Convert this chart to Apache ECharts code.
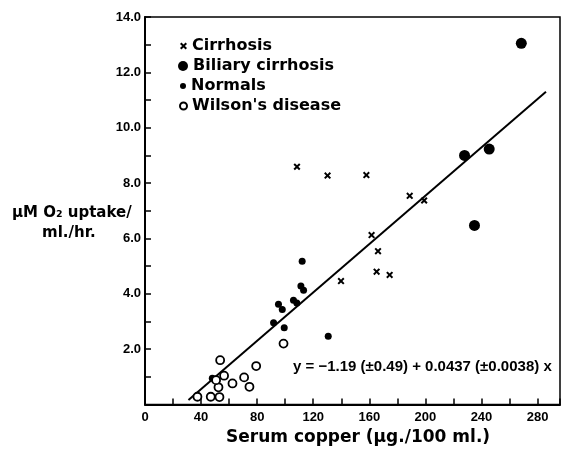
<!DOCTYPE html>
<html>
<head>
<meta charset="utf-8">
<script src="https://cdn.jsdelivr.net/npm/echarts@6/dist/echarts.min.js"></script>
<style>
  html, body { margin: 0; padding: 0; background: #ffffff; }
  #chart { width: 563px; height: 450px; }
</style>
</head>
<body>
<div id="chart"></div>
<script>
  // values
  var cirrhosisX = [108.4, 130.2, 157.9, 188.8, 199.1, 161.6, 166.2, 165.2, 174.5, 139.8];
  var cirrhosisY = [8.59, 8.27, 8.29, 7.54, 7.37, 6.12, 5.54, 4.80, 4.68, 4.46];
  var biliaryX = [268.4, 227.9, 245.5, 235.0];
  var biliaryY = [13.05, 9.00, 9.23, 6.47];
  var normalsX = [112.1, 111.2, 113.1, 95.2, 97.9, 105.9, 108.3, 91.7, 99.3, 130.7, 48.0];
  var normalsY = [5.18, 4.28, 4.13, 3.62, 3.43, 3.77, 3.67, 2.95, 2.77, 2.47, 0.95];
  var wilsonX = [53.6, 79.3, 56.4, 62.4, 70.7, 74.5, 52.4, 37.4, 46.9, 53.1, 98.8, 50.7];
  var wilsonY = [1.60, 1.39, 1.04, 0.76, 0.98, 0.64, 0.62, 0.28, 0.28, 0.27, 2.20, 0.88];
  var fitX = [31, 286];
  var fitY = [0.16, 11.3];
  var xTickLabels = ['0', '40', '80', '120', '160', '200', '240', '280'];
  var yTickLabels = ['2.0', '4.0', '6.0', '8.0', '10.0', '12.0', '14.0'];

  function pairs(xs, ys) {
    var out = [];
    for (var i = 0; i < xs.length; i++) out.push([xs[i], ys[i]]);
    return out;
  }

  var crossPath = 'path://M0,2L2,0L5,3L8,0L10,2L7,5L10,8L8,10L5,7L2,10L0,8L3,5Z';
  var font = 'Liberation Sans';
  var titleFont = 'DejaVu Sans';

  var myChart = echarts.init(document.getElementById('chart'));
  var legendBase = {
    orient: 'vertical',
    itemGap: 0,
    padding: 0,
    textStyle: { color: '#000', fontFamily: titleFont, fontWeight: 'bold', fontSize: 16 },
    selectedMode: false
  };
  var option = {
    animation: false,
    backgroundColor: '#fff',
    grid: {
      left: 145, right: 3, top: 17, bottom: 45.5,
      show: true, borderColor: '#000', borderWidth: 1.5
    },
    legend: [
      Object.assign({}, legendBase, { left: 180, top: 38, itemWidth: 7, itemHeight: 7, data: ['Cirrhosis'] }),
      Object.assign({}, legendBase, { left: 178, top: 58, itemWidth: 10, itemHeight: 10, data: ['Biliary cirrhosis'] }),
      Object.assign({}, legendBase, { left: 180, top: 78, itemWidth: 6, itemHeight: 6, data: ['Normals'] }),
      Object.assign({}, legendBase, { left: 179, top: 98, itemWidth: 7, itemHeight: 7, data: ["Wilson's disease"] })
    ],
    xAxis: {
      type: 'value',
      min: 0, max: 296, interval: 20,
      axisLine: { lineStyle: { color: '#000', width: 2 } },
      axisTick: { inside: true, length: 6, lineStyle: { color: '#000', width: 1.5 } },
      splitLine: { show: false },
      axisLabel: {
        color: '#000', fontFamily: font, fontWeight: 'bold', fontSize: 13, margin: 6,
        formatter: function (v) {
          var s = String(v);
          return xTickLabels.indexOf(s) >= 0 ? s : '';
        }
      }
    },
    yAxis: {
      type: 'value',
      min: 0, max: 14, interval: 1,
      axisLine: { lineStyle: { color: '#000', width: 2 } },
      axisTick: { inside: true, length: 6, lineStyle: { color: '#000', width: 1.5 } },
      splitLine: { show: false },
      axisLabel: {
        color: '#000', fontFamily: font, fontWeight: 'bold', fontSize: 13, margin: 4,
        formatter: function (v) {
          var s = v.toFixed(1);
          return yTickLabels.indexOf(s) >= 0 ? s : '';
        }
      }
    },
    graphic: [
      { type: 'text', left: 12, top: 206,
        style: { text: 'μM O₂ uptake/', fill: '#000', font: 'bold 15px "DejaVu Sans"' } },
      { type: 'text', left: 42, top: 226,
        style: { text: 'ml./hr.', fill: '#000', font: 'bold 15px "DejaVu Sans"' } },
      { type: 'text', left: 226, top: 429,
        style: { text: 'Serum copper (μg./100 ml.)', fill: '#000', font: 'bold 17px "DejaVu Sans"' } },
      { type: 'text', left: 293, top: 359,
        style: { text: 'y = −1.19 (±0.49) + 0.0437 (±0.0038) x', fill: '#000', font: 'bold 15px "Liberation Sans"' } }
    ],
    series: [
      {
        name: 'fit', type: 'line', data: pairs(fitX, fitY),
        symbol: 'none', lineStyle: { color: '#000', width: 2 }, z: 1
      },
      {
        name: 'Cirrhosis', type: 'scatter', data: pairs(cirrhosisX, cirrhosisY),
        symbol: crossPath, symbolSize: 7, itemStyle: { color: '#000', opacity: 1 }, z: 3
      },
      {
        name: 'Biliary cirrhosis', type: 'scatter', data: pairs(biliaryX, biliaryY),
        symbol: 'circle', symbolSize: 11, itemStyle: { color: '#000', opacity: 1 }, z: 3
      },
      {
        name: 'Normals', type: 'scatter', data: pairs(normalsX, normalsY),
        symbol: 'circle', symbolSize: 7, itemStyle: { color: '#000', opacity: 1 }, z: 3
      },
      {
        name: "Wilson's disease", type: 'scatter', data: pairs(wilsonX, wilsonY),
        symbol: 'circle', symbolSize: 8,
        itemStyle: { color: '#fff', borderColor: '#000', borderWidth: 1.8, opacity: 1 }, z: 3
      }
    ]
  };
  myChart.setOption(option);
</script>
</body>
</html>
